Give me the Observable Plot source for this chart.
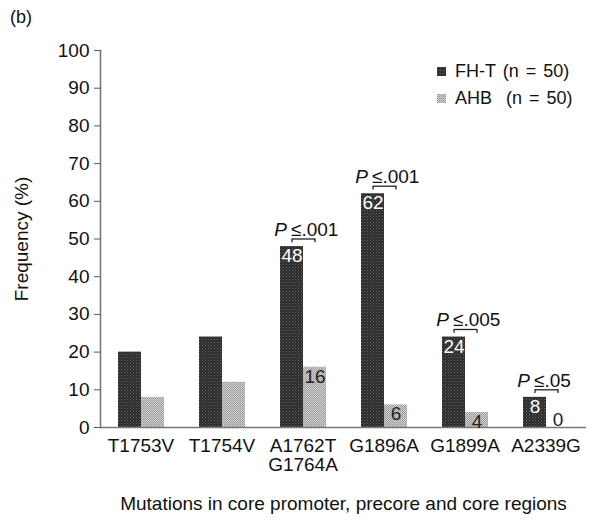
<!DOCTYPE html>
<html>
<head>
<meta charset="utf-8">
<script src="https://cdn.jsdelivr.net/npm/d3@7"></script>
<script src="https://cdn.jsdelivr.net/npm/@observablehq/plot@0.6"></script>
<style>
  body { margin: 0; background: white; }
  #wrap { position: relative; width: 596px; height: 520px; font-family: "Liberation Sans", Arial, sans-serif; color: #111; }
  #panel { position: absolute; left: 10px; top: 7px; font-size: 18px; }
  #legend { position: absolute; left: 437px; top: 61px; }
  #legend [class$="-swatch"] { padding-bottom: 6px; white-space: pre; word-spacing: 2px; }
  #legend svg { margin-right: 9px; }
</style>
</head>
<body>
<svg width="0" height="0" style="position:absolute">
  <defs>
    <pattern id="pDark" width="3" height="3" patternUnits="userSpaceOnUse">
      <rect width="3" height="3" fill="#2b2b2b"></rect>
      <rect x="0" y="0" width="1" height="1" fill="#6a6a6a"></rect>
      <rect x="1.5" y="1.5" width="1" height="1" fill="#555"></rect>
    </pattern>
    <pattern id="pLight" width="2" height="2" patternUnits="userSpaceOnUse">
      <rect width="2" height="2" fill="#d2d2d2"></rect>
      <rect x="0" y="0" width="1" height="1" fill="#949494"></rect>
      <rect x="1" y="1" width="1" height="1" fill="#a2a2a2"></rect>
    </pattern>
  </defs>
</svg>
<div id="wrap">
  <div id="panel">(b)</div>
</div>
<script>
const categories = ["T1753V", "T1754V", "A1762T\nG1764A", "G1896A", "G1899A", "A2339G"];
const series = ["FH-T", "AHB"];
const seriesLabels = ["FH-T (n = 50)", "AHB\u00a0\u00a0(n = 50)"];
const fhtValues = [20, 24, 48, 62, 24, 8];
const ahbValues = [8, 12, 16, 6, 4, 0];
const fhtLabels = ["", "", "48", "62", "24", "8"];
const ahbLabels = ["", "", "16", "6", "4", "0"];
const pCategories = ["A1762T\nG1764A", "G1896A", "G1899A", "A2339G"];
const pTexts = ["≤.001", "≤.001", "≤.005", "≤.05"];
const yTicks = [0, 10, 20, 30, 40, 50, 60, 70, 80, 90, 100];
const colors = ["url(#pDark)", "url(#pLight)"];

const rows = [];
categories.forEach((c, i) => {
  rows.push({cat: c, series: "FH-T", value: fhtValues[i], label: fhtLabels[i]});
  rows.push({cat: c, series: "AHB", value: ahbValues[i], label: ahbLabels[i]});
});
const brackets = pCategories.map((c, i) => {
  const v = fhtValues[categories.indexOf(c)];
  return {cat: c, text: pTexts[i], top: v + 2, leg: v + 1};
});
const legs = brackets.flatMap(b => series.map(s => ({cat: b.cat, series: s, top: b.top, leg: b.leg})));

const font = "Liberation Sans, Arial, sans-serif";
const chart = Plot.plot({
  width: 596,
  height: 520,
  marginTop: 50,
  marginBottom: 93,
  marginLeft: 99,
  marginRight: 10,
  style: {fontFamily: font, fontSize: "19px", color: "#111", background: "white", overflow: "visible"},
  fx: {domain: categories, paddingInner: 0, paddingOuter: 0, label: null, axis: null},
  x: {domain: series, paddingInner: 0, paddingOuter: 0.7, axis: null},
  y: {domain: [0, 100], axis: null},
  color: {domain: series, range: colors},
  marks: [
    Plot.axisFx({anchor: "bottom", tickSize: 0, tickPadding: 11, lineHeight: 1.0, fontSize: 19,
      label: "Mutations in core promoter, precore and core regions", labelAnchor: "center", labelOffset: 82}),
    Plot.axisY({ticks: yTicks, tickSize: 6, tickPadding: 5, stroke: "#555", fontSize: 19,
      label: "Frequency (%)", labelAnchor: "center", labelArrow: "none", labelOffset: 86}),
    Plot.barY(rows, {fx: "cat", x: "series", y: "value", fill: "series"}),
    Plot.ruleY([0], {stroke: "#777", strokeWidth: 1.6}),
    Plot.frame({anchor: "left", facetAnchor: "left", stroke: "#777", strokeWidth: 1.6}),
    Plot.text(rows.filter(d => d.label !== "" && d.value > 0), {
      fx: "cat", x: "series", y: "value", text: "label", lineAnchor: "top", dy: 2,
      fill: d => d.series === "FH-T" ? "white" : "#222", fontSize: 19}),
    Plot.text(rows.filter(d => d.label !== "" && d.value === 0), {
      fx: "cat", x: "series", y: "value", text: "label", lineAnchor: "bottom", dy: -2,
      fill: "#222", fontSize: 19}),
    Plot.link(brackets, {fx: "cat", x1: () => "FH-T", x2: () => "AHB", y1: "top", y2: "top", stroke: "#222", strokeWidth: 1.3}),
    Plot.ruleX(legs, {fx: "cat", x: "series", y1: "leg", y2: "top", stroke: "#222", strokeWidth: 1.3}),
    Plot.text(brackets, {fx: "cat", y: "top", text: () => "P", fontStyle: "italic", textAnchor: "end",
      lineAnchor: "bottom", dx: -16, dy: -3, fontSize: 19, fill: "#111"}),
    Plot.text(brackets, {fx: "cat", y: "top", text: "text", textAnchor: "start",
      lineAnchor: "bottom", dx: -12, dy: -3, fontSize: 19, fill: "#111"})
  ]
});
const wrap = document.getElementById("wrap");
wrap.appendChild(chart);

const legend = Plot.legend({
  color: {type: "ordinal", domain: series, range: colors},
  tickFormat: d => seriesLabels[series.indexOf(d)],
  columns: 1,
  swatchSize: 9,
  style: {fontFamily: font, fontSize: "18px", color: "#111"}
});
const lg = document.createElement("div");
lg.id = "legend";
lg.appendChild(legend);
wrap.appendChild(lg);
</script>
</body>
</html>
